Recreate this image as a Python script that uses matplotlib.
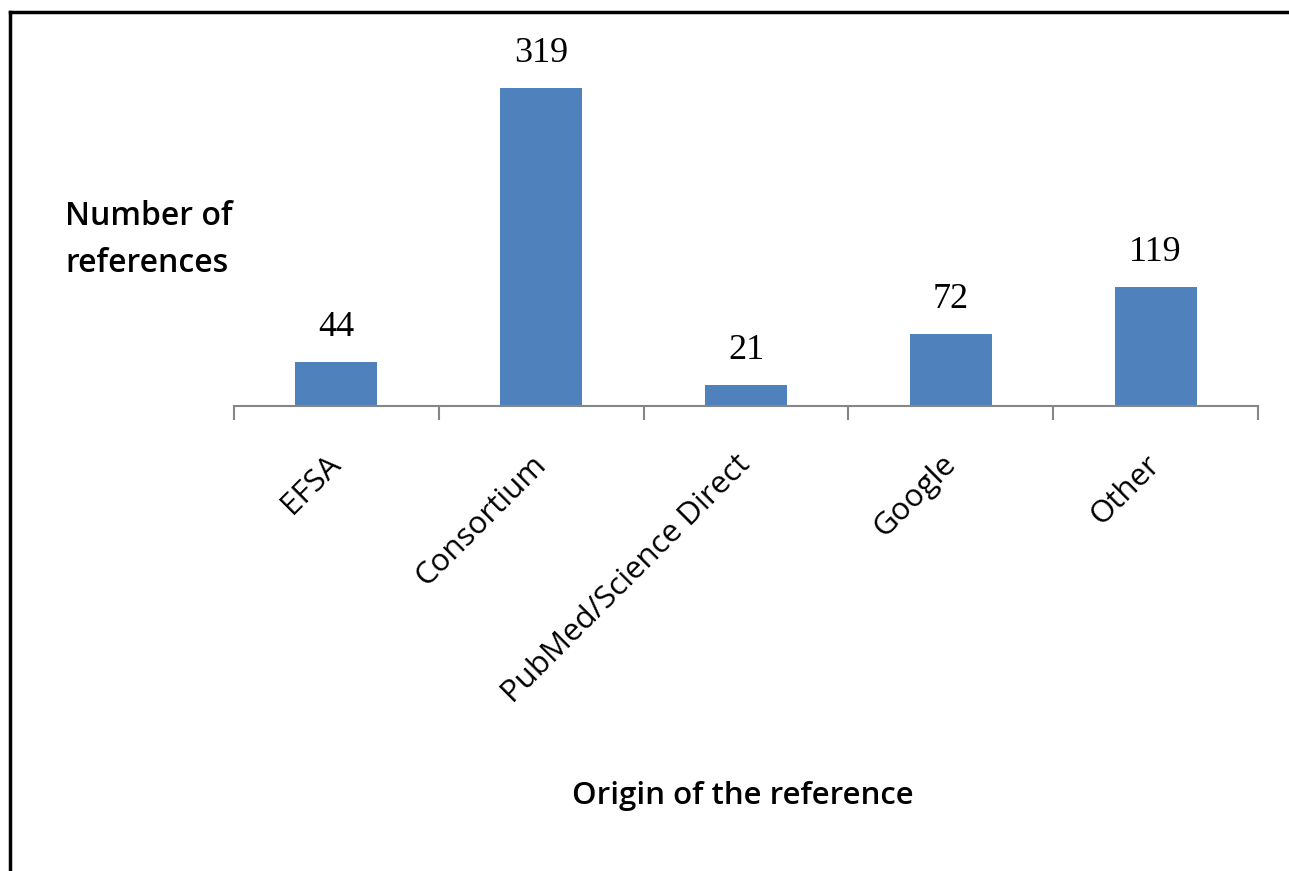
import numpy as np
import matplotlib.pyplot as plt
from matplotlib.lines import Line2D

# data
categories = ["EFSA", "Consortium", "PubMed/Science Direct", "Google", "Other"]
counts = [44, 319, 21, 72, 119]

fig = plt.figure(figsize=(12.89, 8.71), dpi=100)
ax = fig.add_axes([0.1815, 0.534, 0.7945, 0.4006])

x = np.arange(len(categories))
ax.bar(x, counts, width=0.4, color='#4F81BD')

for xi, v in zip(x, counts):
    ax.text(xi, v + 18, str(v), ha='center', va='bottom',
            family='Liberation Serif', fontsize=26)

ax.set_xlim(-0.5, len(categories) - 0.5)
ax.set_ylim(0, 350)

# only the bottom axis line is shown
for s in ['top', 'right', 'left']:
    ax.spines[s].set_visible(False)
ax.spines['bottom'].set_color('#868686')
ax.spines['bottom'].set_linewidth(1.5)
ax.set_yticks([])

ax.set_xticks(x)
ax.set_xticklabels(categories, rotation=45, ha='right', va='center',
                   rotation_mode='anchor', family='Open Sans', fontsize=22.5)
ax.tick_params(axis='x', which='major', length=0, pad=39)
ax.set_xticks(np.arange(-0.5, len(categories)), minor=True)
ax.tick_params(axis='x', which='minor', length=10, width=1.5, color='#868686')

fig.text(65 / 1289, 1 - 240 / 871, "Number of\nreferences", ha='left', va='center',
         family='Open Sans', fontsize=23, fontweight='semibold', linespacing=1.55)
fig.text(743 / 1289, 1 - 796 / 871, "Origin of the reference", ha='center', va='center',
         family='Open Sans', fontsize=22.5, fontweight='semibold')

# frame remnants (top and left)
fig.add_artist(Line2D([10 / 1289, 1], [1 - 12 / 871, 1 - 12 / 871], color='black',
                      linewidth=2.5, transform=fig.transFigure))
fig.add_artist(Line2D([10 / 1289, 10 / 1289], [0, 1 - 12 / 871], color='black',
                      linewidth=2.5, transform=fig.transFigure))

fig.savefig("out.png", dpi=100)
